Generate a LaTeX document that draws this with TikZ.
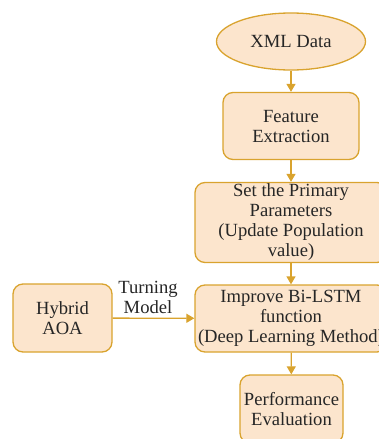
\documentclass[tikz,border=0pt]{standalone}
\usepackage{fontspec}
\setmainfont{Liberation Serif}
\usetikzlibrary{shapes.geometric,arrows.meta}
\definecolor{boxfill}{HTML}{FCE5CD}
\definecolor{boxline}{HTML}{D9A32E}
\begin{document}
\begin{tikzpicture}[x=1pt,y=-1pt,
  every node/.style={font=\fontsize{18.6}{20}\selectfont, text=black!85},
  stepbox/.style={draw=boxline, fill=boxfill, line width=1.3pt, rounded corners=10pt, align=center, inner sep=0pt},
  flow/.style={draw=boxline, line width=1.3pt, -{Triangle[length=8pt,width=9pt]}}]
\useasboundingbox (0,0) rectangle (379,439);
\clip (0,0) rectangle (379,439);

% main flow
\node[ellipse, draw=boxline, fill=boxfill, line width=1.3pt, inner sep=0pt,
      minimum width=149pt, minimum height=57pt] (xml) at (291,41.5) {XML Data};
\node[stepbox, minimum width=136pt, minimum height=67pt] (feat) at (291,126) {Feature\\Extraction};
\node[stepbox, minimum width=192pt, minimum height=80pt] (prim) at (291,222.5)
  {Set the Primary\\Parameters\\(Update Population\\value)};
\node[stepbox, minimum width=192pt, minimum height=67pt] (bilstm) at (291,318.5)
  {Improve Bi-LSTM\\function\\(Deep Learning Method)};
\node[stepbox, minimum width=103pt, minimum height=68pt] (perf) at (291.5,409) {Performance\\Evaluation};

% side input
\node[stepbox, minimum width=99pt, minimum height=68pt] (aoa) at (62.5,318) {Hybrid\\AOA};
\node[align=center] (tm) at (148,297) {Turning\\Model};

\draw[flow] (xml) -- (feat);
\draw[flow] (feat) -- (prim);
\draw[flow] (prim) -- (bilstm);
\draw[flow] (bilstm) -- (perf);
\draw[flow] (aoa) -- (bilstm);
\end{tikzpicture}
\end{document}
